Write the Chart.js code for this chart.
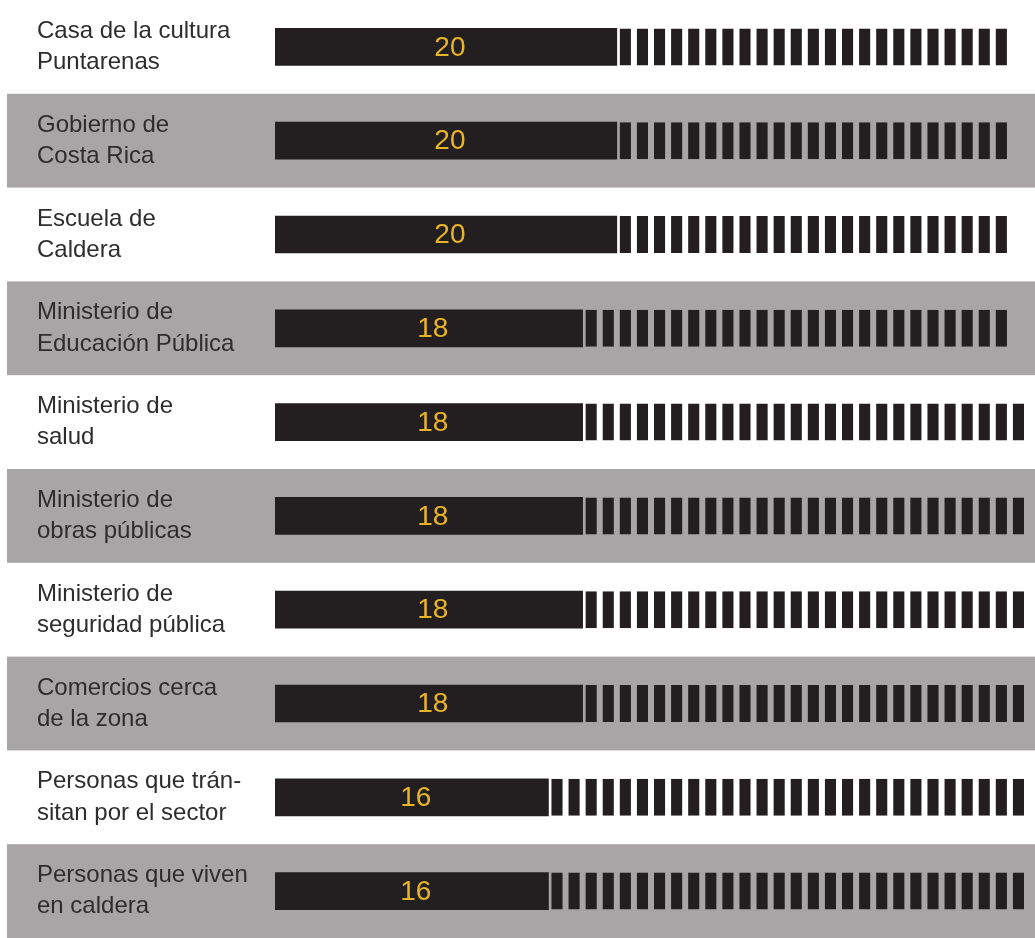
<!DOCTYPE html>
<html><head><meta charset="utf-8">
<script src="https://cdn.jsdelivr.net/npm/chart.js@4/dist/chart.umd.min.js"></script>
<style>html,body{margin:0;padding:0;background:#fff;overflow:hidden;}canvas{display:block;}</style>
</head><body>
<canvas id="c" width="1035" height="938"></canvas>
<script>
// ---- data ----
const categories = [
  ["Casa de la cultura", "Puntarenas"],
  ["Gobierno de", "Costa Rica"],
  ["Escuela de", "Caldera"],
  ["Ministerio de", "Educación Pública"],
  ["Ministerio de", "salud"],
  ["Ministerio de", "obras públicas"],
  ["Ministerio de", "seguridad pública"],
  ["Comercios cerca", "de la zona"],
  ["Personas que trán-", "sitan por el sector"],
  ["Personas que viven", "en caldera"]
];
const values = [20, 20, 20, 18, 18, 18, 18, 18, 16, 16];
const stripeCounts = [23, 23, 23, 25, 26, 26, 26, 26, 28, 28];
const axisMax = 44;

const BAR = '#231f20';
const BAND = '#a7a5a6';
const NUM = '#e8b52a';
const TEXT = '#2e2d2d';

const datasets = [{
  label: 'valor',
  data: values,
  backgroundColor: BAR,
  borderWidth: 0,
  barThickness: 37
}];
const maxStripes = Math.max(...stripeCounts);
for (let k = 0; k < maxStripes; k++) {
  datasets.push({
    label: 'resto' + k,
    data: stripeCounts.map(n => (k < n ? 1 : null)),
    backgroundColor: BAR,
    borderColor: 'rgba(0,0,0,0)',
    borderWidth: {left: 3, right: 3, top: 0, bottom: 0},
    borderSkipped: false,
    inflateAmount: 0,
    barThickness: 37
  });
}

const bandPlugin = {
  id: 'bands',
  beforeDraw(chart) {
    const {ctx, chartArea, scales} = chart;
    const y = scales.y;
    const h = (chartArea.bottom - chartArea.top) / categories.length;
    ctx.save();
    ctx.fillStyle = BAND;
    categories.forEach((c, i) => {
      if (i % 2 === 1) {
        const cy = y.getPixelForValue(i);
        let top = cy - h / 2, bot = cy + h / 2;
        if (i === categories.length - 1) bot = chart.height;
        ctx.fillRect(7, top, chart.width - 7, bot - top);
      }
    });
    ctx.restore();
  }
};

const numberPlugin = {
  id: 'numbers',
  afterDatasetsDraw(chart) {
    const {ctx} = chart;
    const meta = chart.getDatasetMeta(0);
    ctx.save();
    ctx.fillStyle = NUM;
    ctx.font = '28px "Liberation Sans", Arial, sans-serif';
    ctx.textAlign = 'center';
    ctx.textBaseline = 'middle';
    meta.data.forEach((el, i) => {
      const cx = (el.x + el.base) / 2 + 4;
      ctx.fillText(String(values[i]), cx, el.y + 1);
    });
    ctx.restore();
  }
};

new Chart(document.getElementById('c'), {
  type: 'bar',
  data: {labels: categories, datasets},
  options: {
    indexAxis: 'y',
    responsive: false,
    animation: false,
    devicePixelRatio: 1,
    layout: {padding: {left: 37, right: 8, top: -6, bottom: 0}},
    scales: {
      x: {stacked: true, min: 0, max: axisMax, display: false},
      y: {
        stacked: true,
        grid: {display: false, drawTicks: false},
        border: {display: false},
        ticks: {
          crossAlign: 'far',
          color: TEXT,
          padding: 0,
          font: {family: '"Liberation Sans", Arial, sans-serif', size: 24, lineHeight: 1.3}
        },
        afterFit(s) { s.width = 275 - 37; s.paddingTop = -6; s.paddingBottom = 0; }
      }
    },
    plugins: {legend: {display: false}, tooltip: {enabled: false}}
  },
  plugins: [bandPlugin, numberPlugin]
});
</script>
</body></html>
